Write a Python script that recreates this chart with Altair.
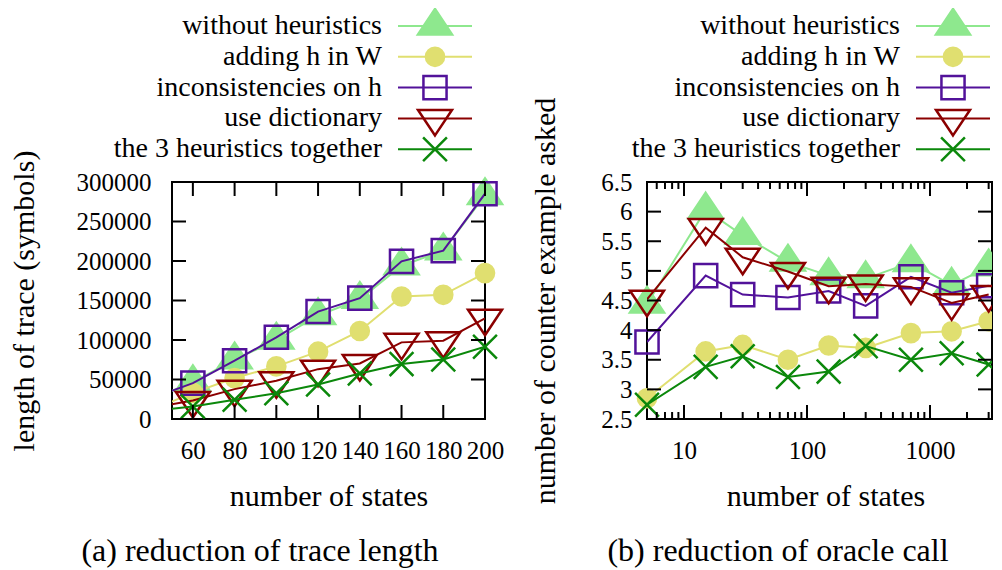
import altair as alt
import pandas as pd

# ---------------- data ----------------
SERIES = ["without heuristics", "adding h in W", "inconsistencies on h",
          "use dictionary", "the 3 heuristics together"]

# (a) length of trace vs number of states
x_left = [40, 60, 80, 100, 120, 140, 160, 180, 200]
left_without = [25000, 46300, 75100, 100000, 131000, 151500, 194000, 213000, 283000]
left_adding = [11400, 33000, 51800, 66600, 85200, 111400, 155100, 157200, 184700]
left_incons = [26200, 45400, 73800, 103400, 136000, 153000, 199600, 213100, 285200]
left_dict = [14100, 23500, 37800, 48400, 63100, 70300, 97000, 99100, 127500]
left_together = [10000, 15800, 24300, 32700, 43600, 57600, 69500, 75400, 91500]

# (b) number of counter examples asked vs number of states (log x)
x_right = [5, 15, 30, 70, 150, 300, 700, 1500, 3000]
right_without = [4.44, 6.03, 5.6, 5.15, 4.92, 4.87, 5.14, 4.76, 5.07]
right_adding = [2.85, 3.64, 3.75, 3.5, 3.74, 3.7, 3.95, 3.98, 4.15]
right_incons = [3.8, 4.92, 4.6, 4.55, 4.66, 4.41, 4.9, 4.63, 4.75]
right_dict = [4.52, 5.73, 5.23, 4.99, 4.74, 4.78, 4.73, 4.46, 4.6]
right_together = [2.74, 3.38, 3.56, 3.21, 3.3, 3.73, 3.5, 3.61, 3.42]

left_xticks = [60, 80, 100, 120, 140, 160, 180, 200]
left_yticks = [0, 50000, 100000, 150000, 200000, 250000, 300000]
right_xmajor = [10, 100, 1000]
right_xminor = [6, 7, 8, 9, 20, 30, 40, 50, 60, 70, 80, 90,
                200, 300, 400, 500, 600, 700, 800, 900, 2000, 3000]
right_yticks = [2.5, 3, 3.5, 4, 4.5, 5, 5.5, 6, 6.5]

# ---------------- style ----------------
COLORS = ["#8ee88e", "#e0df70", "#52129a", "#8b0000", "#0b880b"]
FILLED = [True, True, False, False, False]
SHAPES = ["M0,-1L1,0.5L-1,0.5Z", "circle",
          "M-0.68,-0.68L0.68,-0.68L0.68,0.68L-0.68,0.68Z",
          "M0,1L1,-0.5L-1,-0.5Z",
          "M-0.7,-0.7L0.7,0.7M-0.7,0.7L0.7,-0.7"]
SIZES = [1156, 330, 1156, 1156, 1156]
FONT = "Liberation Serif"
TXT = 30
LEG_FS = 28
TICK_FS = 25
H = 237


def long_frame(xs, cols):
    rows = []
    for name, ys in zip(SERIES, cols):
        for xv, yv in zip(xs, ys):
            rows.append({"x": xv, "y": yv, "series": name})
    return pd.DataFrame(rows)


def panel(df, xscale, yscale, xaxis, yaxis, width, xmin, xclip,
          xmajor, xminor, yticks, leg_x, caption, caption_x):
    X = lambda: alt.X("x:Q", scale=xscale, axis=xaxis)
    Y = lambda: alt.Y("y:Q", scale=yscale, axis=yaxis)
    layers = []
    for i, s in enumerate(SERIES):
        base = alt.Chart(df).transform_filter(alt.datum.series == s)
        layers.append(base.mark_line(clip=True, color=COLORS[i], strokeWidth=2)
                      .encode(x=X(), y=Y()))
        pstyle = dict(shape=SHAPES[i], size=SIZES[i], filled=FILLED[i],
                      color=COLORS[i], stroke=COLORS[i], strokeWidth=2.5, opacity=1)
        layers.append(base.transform_filter((alt.datum.x >= xmin) & (alt.datum.x < xclip))
                      .mark_point(**pstyle).encode(x=X(), y=Y()))
        layers.append(base.transform_filter(alt.datum.x >= xclip)
                      .mark_point(clip=True, **pstyle).encode(x=X(), y=Y()))
    # inward tick marks (bottom/top, left/right)
    tx = pd.DataFrame({"x": xmajor})
    ty = pd.DataFrame({"y": yticks})
    tk = dict(color="black", strokeWidth=2)
    layers.append(alt.Chart(tx).mark_rule(**tk).encode(x=X(), y=alt.value(H), y2=alt.value(H - 14)))
    layers.append(alt.Chart(tx).mark_rule(**tk).encode(x=X(), y=alt.value(0), y2=alt.value(14)))
    if xminor:
        tm = pd.DataFrame({"x": xminor})
        layers.append(alt.Chart(tm).mark_rule(**tk).encode(x=X(), y=alt.value(H), y2=alt.value(H - 7)))
        layers.append(alt.Chart(tm).mark_rule(**tk).encode(x=X(), y=alt.value(0), y2=alt.value(7)))
    layers.append(alt.Chart(ty).mark_rule(**tk).encode(y=Y(), x=alt.value(0), x2=alt.value(14)))
    layers.append(alt.Chart(ty).mark_rule(**tk).encode(y=Y(), x=alt.value(width - 14), x2=alt.value(width)))
    # legend (label left of sample, above plot)
    for i, s in enumerate(SERIES):
        ly = -156 + 30.8 * i
        d = pd.DataFrame({"series": [s]})
        c = alt.Chart(d)
        layers.append(c.mark_text(align="right", baseline="middle", font=FONT,
                                  fontSize=LEG_FS, color="black")
                      .encode(text="series:N", x=alt.value(leg_x), y=alt.value(ly)))
        layers.append(c.mark_rule(color=COLORS[i], strokeWidth=2)
                      .encode(x=alt.value(leg_x + 16), x2=alt.value(leg_x + 90), y=alt.value(ly)))
        layers.append(c.mark_point(shape=SHAPES[i], size=SIZES[i], filled=FILLED[i],
                                   color=COLORS[i], stroke=COLORS[i], strokeWidth=2.5,
                                   opacity=1)
                      .encode(x=alt.value(leg_x + 53), y=alt.value(ly)))
    cap = pd.DataFrame({"t": [caption]})
    layers.append(alt.Chart(cap).mark_text(align="center", baseline="middle", font=FONT,
                                           fontSize=32, color="black")
                  .encode(text="t:N", x=alt.value(caption_x), y=alt.value(369)))
    return alt.layer(*layers).properties(width=width, height=H)


def xaxis_for(values, title_x):
    return alt.Axis(values=values, format="d", ticks=False, tickSize=0, domain=False,
                    grid=False, labelFont=FONT, labelFontSize=TICK_FS, labelColor="black",
                    labelPadding=19, labelOverlap=False, labelFlush=False, labelBound=False,
                    title="number of states", titleFont=FONT, titleFontSize=TXT,
                    titleFontWeight="normal", titleColor="black", titleX=title_x, titleY=77,
                    titleAlign="center", titleBaseline="middle")


def yaxis_for(values, fmt, title, pad, title_x):
    return alt.Axis(values=values, format=fmt, ticks=False, tickSize=0, domain=False,
                    grid=False, labelFont=FONT, labelFontSize=TICK_FS, labelColor="black",
                    labelPadding=pad, labelOverlap=False, labelFlush=False,
                    title=title, titleFont=FONT, titleFontSize=TXT,
                    titleFontWeight="normal", titleColor="black", titleX=title_x, titleY=H / 2,
                    titleAngle=270, titleAlign="center", titleBaseline="middle")


# ---------------- left panel ----------------
WL = 313
left_df = long_frame(x_left, [left_without, left_adding, left_incons, left_dict, left_together])
left = panel(left_df,
             alt.Scale(domain=[50, 200], nice=False, zero=False),
             alt.Scale(domain=[0, 300000], nice=False, zero=False),
             xaxis_for(left_xticks, WL / 2),
             yaxis_for(left_yticks, "d", "length of trace (symbols)", 21, -148),
             WL, 50, 1e9,
             left_xticks, None, left_yticks,
             210, "(a) reduction of trace length", 88)

# ---------------- right panel ----------------
WR = 345
right_df = long_frame(x_right, [right_without, right_adding, right_incons, right_dict, right_together])
right = panel(right_df,
              alt.Scale(type="log", domain=[5, 3194], nice=False),
              alt.Scale(domain=[2.5, 6.5], nice=False, zero=False),
              xaxis_for(right_xmajor, 178.5),
              yaxis_for(right_yticks, "~g", "number of counter example asked", 15, -102),
              WR, 5, 2000,
              right_xmajor, right_xminor, right_yticks,
              253, "(b) reduction of oracle call", 131)

chart = (alt.hconcat(left, right, spacing=162, bounds="flush")
         .properties(padding={"left": 0, "top": -5, "right": 0, "bottom": 0},
                     background="white")
         .configure_view(stroke="black", strokeWidth=2))

chart.save("out.html", embed_options={"renderer": "svg", "actions": False})
